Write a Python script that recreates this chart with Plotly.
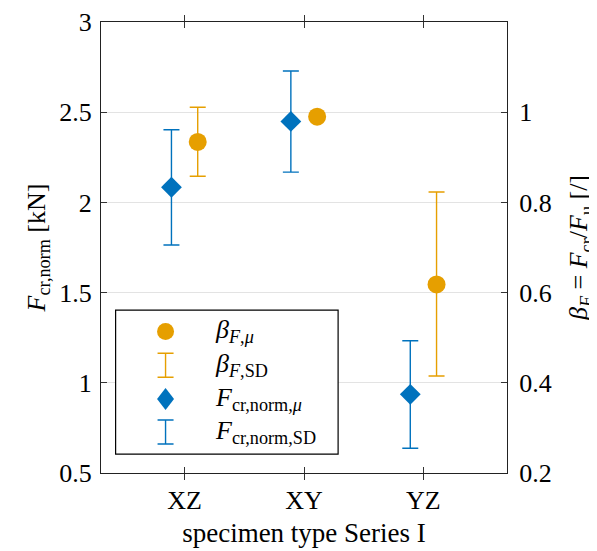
import plotly.graph_objects as go

categories = ["XZ", "XY", "YZ"]
F_mean = [2.084, 2.449, 0.936]
F_sd_up = [0.319, 0.279, 0.297]
F_sd_down = [0.320, 0.281, 0.299]
beta_mean = [0.934, 0.990, 0.618]
beta_sd_up = [0.077, None, 0.205]
beta_sd_down = [0.076, None, 0.203]
left_ticks = [0.5, 1, 1.5, 2, 2.5, 3]
right_ticks = [0.2, 0.4, 0.6, 0.8, 1]

BLUE = "#0072BD"
ORANGE = "#E69F00"
FONT = "Liberation Serif"
off = 0.11
xpos = list(range(1, len(categories) + 1))

fig = go.Figure()
fig.add_trace(go.Scatter(
    x=[p - off for p in xpos], y=F_mean, mode="markers",
    marker=dict(symbol="diamond", size=16, color=BLUE),
    error_y=dict(type="data", array=F_sd_up, arrayminus=F_sd_down, color=BLUE,
                 thickness=1.4, width=8, symmetric=False),
    showlegend=False, yaxis="y"))
fig.add_trace(go.Scatter(
    x=[p + off for p in xpos], y=beta_mean, mode="markers",
    marker=dict(symbol="circle", size=18, color=ORANGE),
    error_y=dict(type="data", array=beta_sd_up, arrayminus=beta_sd_down, color=ORANGE,
                 thickness=1.4, width=8, symmetric=False),
    showlegend=False, yaxis="y2"))

axfont = dict(family=FONT, size=26, color="black")
fig.update_layout(
    width=597, height=551,
    margin=dict(l=93, r=98, t=14, b=86, autoexpand=False),
    plot_bgcolor="white", paper_bgcolor="white",
    font=dict(family=FONT, size=26, color="black"),
    xaxis=dict(range=[0.3, 3.7], tickvals=xpos, ticktext=categories,
               ticks="inside", ticklen=6, tickcolor="#333", mirror="allticks",
               showline=True, linecolor="#222", linewidth=1.2, showgrid=False,
               zeroline=False, tickfont=axfont, automargin=False, ticklabelstandoff=4,
               title=dict(text="specimen type Series I",
                          font=dict(family=FONT, size=27, color="black"), standoff=8)),
    yaxis=dict(range=[0.5, 3], tickvals=left_ticks, ticks="inside", ticklen=6,
               tickcolor="#333", showline=True, linecolor="#222", linewidth=1.2,
               mirror=True, showgrid=True, gridcolor="#e3e3e3", gridwidth=1,
               zeroline=False, tickfont=axfont, automargin=False, ticklabelstandoff=3,
               title=dict(text="<i>F</i><sub>cr,norm</sub> [kN]", font=axfont, standoff=6)),
    yaxis2=dict(range=[0.2, 1.2], tickvals=right_ticks, overlaying="y", side="right",
                ticks="inside", ticklen=6, tickcolor="#333", showline=True,
                linecolor="#222", linewidth=1.2, showgrid=False, zeroline=False,
                tickfont=axfont, automargin=False, ticklabelstandoff=6,
                title=dict(text="<i>β<sub>F</sub></i> = <i>F</i><sub>cr</sub>/<i>F</i><sub>u</sub> [/]",
                           font=axfont, standoff=18)),
)

# manual legend (box, glyphs, labels) in paper coordinates
lx0, lx1, ly0, ly1 = 0.036, 0.584, 0.042, 0.361
fig.add_shape(type="rect", xref="paper", yref="paper", x0=lx0, x1=lx1, y0=ly0, y1=ly1,
              line=dict(color="black", width=1.2), fillcolor="white", layer="above")
rows_y = [0.314, 0.239, 0.164, 0.091]
gx = 0.159
labels = ["<i>β</i><sub><i>F</i>,<i>μ</i></sub>",
          "<i>β</i><sub><i>F</i>,SD</sub>",
          "<i>F</i><sub>cr,norm,<i>μ</i></sub>",
          "<i>F</i><sub>cr,norm,SD</sub>"]
# circle
fig.add_shape(type="circle", xref="paper", yref="paper", xsizemode="pixel", ysizemode="pixel",
              xanchor=gx, yanchor=rows_y[0], x0=-8.5, x1=8.5, y0=-8.5, y1=8.5,
              fillcolor=ORANGE, line=dict(width=0), layer="above")
# diamond
fig.add_shape(type="path", xref="paper", yref="paper", xsizemode="pixel", ysizemode="pixel",
              xanchor=gx, yanchor=rows_y[2], path="M0,11 L8.5,0 L0,-11 L-8.5,0 Z",
              fillcolor=BLUE, line=dict(width=0), layer="above")
# I-beams
for ry, col in [(rows_y[1], ORANGE), (rows_y[3], BLUE)]:
    fig.add_shape(type="path", xref="paper", yref="paper", xsizemode="pixel", ysizemode="pixel",
                  xanchor=gx, yanchor=ry,
                  path="M-8,12 L8,12 M0,12 L0,-12 M-8,-12 L8,-12",
                  line=dict(color=col, width=1.4), layer="above")
for ry, lab in zip(rows_y, labels):
    fig.add_annotation(xref="paper", yref="paper", x=0.275, y=ry, text=lab,
                       showarrow=False, xanchor="left", yanchor="middle",
                       font=dict(family=FONT, size=26, color="black"))

fig.write_html("out.html")
